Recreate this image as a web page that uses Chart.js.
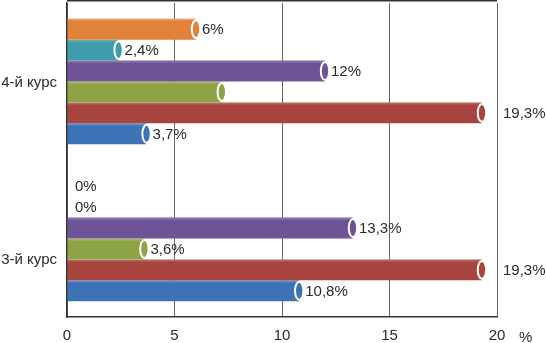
<!DOCTYPE html>
<html>
<head>
<meta charset="utf-8">
<script src="https://cdn.jsdelivr.net/npm/chart.js@4"></script>
<style>
  html, body { margin: 0; padding: 0; background: #fff; }
  #c { display: block; }
</style>
</head>
<body>
<canvas id="c" width="546" height="343"></canvas>
<script>
const categories = ['4-й курс', '3-й курс'];
const seriesColors = ['#E2823A', '#3E9CAB', '#6E5497', '#8CA445', '#A7443D', '#3D73B5'];
const orange = [6, 0];
const teal = [2.4, 0];
const purple = [12, 13.3];
const green = [7.2, 3.6];
const red = [19.3, 19.3];
const blue = [3.7, 10.8];
const showLabel = [
  [true, true],
  [true, true],
  [true, true],
  [false, true],
  [true, true],
  [true, true]
];
const xTicks = [0, 5, 10, 15, 20];
const unitLabel = '%';

const FONT = '15px "Liberation Sans", Arial, sans-serif';
const TXT = '#2a2a2a';

const seriesValues = [orange, teal, purple, green, red, blue];

function fmt(v) { return String(v).replace('.', ',') + '%'; }

const decor = {
  id: 'decor',
  afterDatasetsDraw(chart) {
    const ctx = chart.ctx;
    const area = chart.chartArea;
    const xs = chart.scales.x;
    // highlight strip + caps
    chart.data.datasets.forEach((ds, di) => {
      const meta = chart.getDatasetMeta(di);
      meta.data.forEach((bar, i) => {
        const v = ds.data[i];
        if (!v) return;
        ctx.save();
        const top = bar.y - bar.height / 2;
        ctx.fillStyle = 'rgba(255,255,255,0.18)';
        ctx.fillRect(bar.base, top, bar.x - bar.base, 2);
        ctx.beginPath();
        ctx.ellipse(bar.x, bar.y, 4.2, bar.height / 2 - 1.5, 0, 0, Math.PI * 2);
        ctx.fillStyle = ds.backgroundColor;
        ctx.fill();
        ctx.lineWidth = 2;
        ctx.strokeStyle = '#ffffff';
        ctx.stroke();
        ctx.restore();
      });
    });
    // value labels
    ctx.save();
    ctx.font = FONT;
    ctx.fillStyle = TXT;
    ctx.textAlign = 'left';
    ctx.textBaseline = 'middle';
    chart.data.datasets.forEach((ds, di) => {
      const meta = chart.getDatasetMeta(di);
      meta.data.forEach((bar, i) => {
        if (!showLabel[di][i]) return;
        const v = ds.data[i];
        let x = bar.x + 6;
        if (v === 0) x = bar.x + 8;
        if (x + ctx.measureText(fmt(v)).width > area.right - 4 && v > 0) x = area.right + 6;
        ctx.fillText(fmt(v), x, bar.y + 1);
      });
    });
    // category labels
    const ys = chart.scales.y;
    ctx.textAlign = 'right';
    const dy = [1, 21];
    categories.forEach((c, i) => {
      ctx.fillText(c, area.left - 10, ys.getPixelForValue(i) + dy[i]);
    });
    // unit label
    ctx.textAlign = 'left';
    ctx.fillText(unitLabel, xs.getPixelForValue(xTicks[xTicks.length - 1]) + 22, area.bottom + 21);
    // top frame line
    ctx.strokeStyle = '#333';
    ctx.lineWidth = 1.5;
    ctx.beginPath();
    ctx.moveTo(area.left, 0.75);
    ctx.lineTo(area.right, 0.75);
    ctx.stroke();
    ctx.restore();
  }
};

new Chart(document.getElementById('c'), {
  type: 'bar',
  data: {
    labels: categories,
    datasets: seriesValues.map((vals, k) => ({
      data: vals,
      backgroundColor: seriesColors[k],
      borderWidth: 0,
      categoryPercentage: 0.8,
      barPercentage: 1.0
    }))
  },
  options: {
    indexAxis: 'y',
    responsive: false,
    animation: false,
    devicePixelRatio: 1,
    layout: { padding: { top: 3, right: 49, left: 0, bottom: 0 } },
    plugins: { legend: { display: false }, tooltip: { enabled: false } },
    scales: {
      x: {
        min: 0, max: 20,
        afterBuildTicks: (s) => { s.ticks = xTicks.map(v => ({ value: v })); },
        afterFit: (s) => { s.height = 26; },
        ticks: { color: TXT, font: { family: '"Liberation Sans", Arial, sans-serif', size: 15 }, padding: 10 },
        grid: { color: '#666', lineWidth: 1, drawTicks: false },
        border: { display: true, color: '#333', width: 1.5 }
      },
      y: {
        afterFit: (s) => { s.width = 67; },
        ticks: { display: false },
        grid: { display: false },
        border: { display: true, color: '#333', width: 1.5 }
      }
    }
  },
  plugins: [decor]
});
</script>
</body>
</html>
